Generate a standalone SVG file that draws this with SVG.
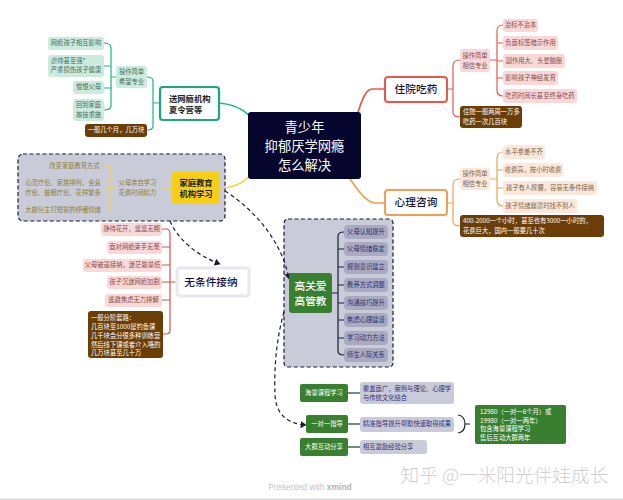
<svg xmlns="http://www.w3.org/2000/svg" width="623" height="500" viewBox="0 0 623 500">
<defs>
<style>
text{font-family:"Noto Sans CJK SC","Liberation Sans",sans-serif;text-anchor:middle}
.l{font-size:6.300px;transform:translateY(-.6px)}
.s{text-anchor:start}
.m{font-size:8.300px;font-weight:700;fill:#222}
.h{font-size:10.700px;font-weight:500;fill:#14143a}
.c{fill:none;stroke-width:1.200}
.t{stroke-width:1.700}
.tl rect{fill:#cdeadf}.tl text{fill:#3f6d5c}
.tr rect{fill:#f9d8d8}.tr text{fill:#8a4a4a}
.to rect{fill:#fbe8da}.to text{fill:#80624a}
.tn rect{fill:#a9aac2}.tn text{fill:#2c2c6a}
.tg rect{fill:#c9cbd8}.tg text{fill:#34307a}
.b rect{fill:#6b3e08}.b text{fill:#fff}
.g rect{fill:#38802f}.g text{fill:#fff}
.y text{fill:#8c7f30}
.d{fill:none;stroke:#1c1c3a;stroke-width:1.200;stroke-dasharray:4 3}
.p{fill:#c9cbd8;stroke:#1c1c3a;stroke-width:1.200;stroke-dasharray:4 2.500}
</style>
<marker id="a" markerWidth="6" markerHeight="6" refX="4.500" refY="3" orient="auto"><path d="M0,0L5,3L0,6Z" fill="#1c1c3a"/></marker>
</defs>
<rect width="623" height="500" fill="#fff"/>
<rect x="18" y="154" width="207" height="67" rx="5" class="p"/>
<rect x="284" y="219" width="109" height="148" rx="4" class="p"/>
<g id="connectors">
<path class="c t" stroke="#1fb387" d="M219,103C232,104 242,108 250,116"/>
<path class="c" stroke="#1fb387" d="M159,103H153M153,103V81Q153,77 147,77M153,103V126Q153,130 147,130M116,77H111M111,48V106M111,48Q111,43 104,43M111,66H104M111,88H104M111,106Q111,110 104,110"/>
<path class="c t" stroke="#e8584c" d="M384,89H372C366,89 362,100 358,112"/>
<path class="c" stroke="#e8584c" d="M447,89H453M453,66Q453,60 460,60M453,66V112Q453,117 460,117M490,60H497M497,31V90M497,31Q497,25 503,25M497,43H503M497,61H503M497,78H503M497,90Q497,96 503,96"/>
<path class="c t" stroke="#f0a050" d="M384,203H376C366,203 358,190 350,179"/>
<path class="c" stroke="#f0a050" d="M447,203H453M453,185Q453,179 460,179M453,185V221Q453,226 460,226M490,179H497M497,158V200M497,158Q497,152 503,152M497,170H503M497,188H503M497,200Q497,206 503,206"/>
<path class="c t" stroke="#f0d44a" d="M220,188C232,188 242,184 250,176"/>
<path class="c" stroke="#f0d44a" d="M172,188H162M103,166H107Q111,166 111,170V206Q111,210 105,210M103,188H116"/>
<path class="c" stroke="#d9504c" d="M176,282H170M170,234V331M162,229H166Q170,229 170,234M162,247H170M162,265H170M162,282H170M162,300H170M163,334H166Q170,334 170,331"/>
<path class="c" stroke="#1c1c3a" d="M332,293H338M338,236V351M338,236Q338,232 344,232M338,249H344M338,267H344M338,285H344M338,303H344M338,320H344M338,338H344M338,351Q338,355 344,355"/>
<path class="c t" stroke="#3f6b55" d="M348,393H360M348,424H360M348,447H360"/>
<path fill="none" stroke="#1c1c3a" stroke-width="1.200" d="M458,415Q465,416 465,424Q465,432 458,433M465,424H470"/>
<path class="d" marker-end="url(#a)" d="M170,221C178,240 198,256 220,264"/>
<path class="d" marker-end="url(#a)" d="M225,191C252,208 282,240 289,279"/>
<path class="d" marker-end="url(#a)" d="M284,312C276,340 274,370 275,395C276,415 288,424 306,425"/>
</g>
<g id="center"><rect x="248" y="112" width="113" height="67" rx="3" fill="#05052e"/><g fill="#fff" font-size="13.300"><text x="304.500" y="132">青少年</text><text x="304.500" y="151">抑郁厌学网瘾</text><text x="304.500" y="170">怎么解决</text></g></g>
<g id="n-send"><rect x="160" y="87" width="59" height="33" rx="3" fill="#fff" stroke="#1aaa7a" stroke-width="2.200"/><text class="m s" x="169" y="102">送网瘾机构</text><text class="m s" x="169" y="113">夏令营等</text></g>
<g id="n-send-leaves" class="tl">
<g><rect x="116" y="66" width="31" height="22" rx="3"/><text class="l" x="131.500" y="75">操作简单</text><text class="l" x="131.500" y="85">希望专业</text></g>
<g><rect x="48" y="37" width="56" height="13" rx="3"/><text class="l" x="76" y="46">网瘾孩子相互影响</text></g>
<g><rect x="48" y="55" width="56" height="22" rx="3"/><text class="l s" x="51" y="64">虐待甚至强*</text><text class="l" x="76" y="73">严重损伤孩子健康</text></g>
<g><rect x="73" y="81" width="31" height="13" rx="3"/><text class="l" x="88.500" y="90">憎恨父母</text></g>
<g><rect x="73" y="99" width="31" height="22" rx="3"/><text class="l" x="88.500" y="108">回到家庭</text><text class="l" x="88.500" y="118">故技重施</text></g>
</g>
<g id="n-send-cost" class="b"><rect x="85" y="124" width="62" height="13" rx="3"/><text class="l" x="116" y="133">一般几个月，几万块</text></g>
<g id="n-family"><rect x="172" y="172" width="48" height="32" rx="3" fill="#f6cf14"/><text class="m" x="196" y="186">家庭教育</text><text class="m" x="196" y="197">机构学习</text></g>
<g id="n-family-leaves" class="y">
<text class="l" x="137.500" y="186">父母亲自学习</text><text class="l" x="137.500" y="196">花费时间精力</text>
<text class="l" x="74.500" y="169">改变家庭教育方式</text>
<text class="l" x="63" y="186">心灵疗愈、家族排列、全息</text><text class="l" x="63" y="196">疗愈、催眠疗愈、花样繁多</text>
<text class="l" x="63" y="213">大部分主打短暂的纾缓情绪</text>
</g>
<g id="n-accept"><rect x="177" y="268" width="72" height="28" rx="3" fill="#fff" stroke="#e8e8ee" stroke-width="3"/><text class="h" x="211" y="286">无条件接纳</text></g>
<g id="n-accept-leaves" class="tr">
<g><rect x="101" y="223" width="61" height="13" rx="3"/><text class="l" x="131.500" y="232">静待花开，遥遥无期</text></g>
<g><rect x="107" y="241" width="55" height="13" rx="3"/><text class="l" x="134.500" y="250">面对网瘾束手无策</text></g>
<g><rect x="83" y="259" width="79" height="13" rx="3"/><text class="l" x="122.500" y="268">父母被逼接纳，迷茫能量低</text></g>
<g><rect x="107" y="276" width="55" height="13" rx="3"/><text class="l" x="134.500" y="285">孩子沉迷网瘾加剧</text></g>
<g><rect x="105" y="294" width="57" height="13" rx="3"/><text class="l" x="133.500" y="303">逃避焦虑无力排解</text></g>
</g>
<g id="n-accept-cost" class="b"><rect x="88" y="311" width="75" height="47" rx="3"/><text class="l s" x="91" y="321">一般分阶套路：</text><text class="l s" x="91" y="330">几百块至1000是钓鱼课</text><text class="l s" x="91" y="339">几千块会分很多种训练营</text><text class="l s" x="91" y="347.500">然后线下课或者介入咯的</text><text class="l s" x="91" y="356">几万块甚至几十万</text></g>
<g id="n-hospital"><rect x="385" y="77" width="62" height="25" rx="3" fill="#fff" stroke="#e8584c" stroke-width="2"/><text class="h" x="416" y="93">住院吃药</text></g>
<g id="n-hospital-leaves" class="tr">
<g><rect x="460" y="49" width="30" height="23" rx="3"/><text class="l" x="475" y="59">操作简单</text><text class="l" x="475" y="69">相信专业</text></g>
<g><rect x="503" y="19" width="35" height="13" rx="3"/><text class="l" x="520.500" y="28">治标不治本</text></g>
<g><rect x="503" y="36" width="55" height="14" rx="3"/><text class="l" x="530.500" y="46">负面标签暗示作用</text></g>
<g><rect x="503" y="54" width="62" height="14" rx="3"/><text class="l" x="534" y="64">副作用大、头晕脑胀</text></g>
<g><rect x="503" y="71" width="55" height="14" rx="3"/><text class="l" x="530.500" y="81">影响孩子神经发育</text></g>
<g><rect x="503" y="89" width="74" height="14" rx="3"/><text class="l" x="540" y="99">吃药时间长甚至终身吃药</text></g>
</g>
<g id="n-hospital-cost" class="b"><rect x="460" y="106" width="62" height="22" rx="3"/><text class="l s" x="463" y="115">住院一般两周一万多</text><text class="l s" x="463" y="125">吃药一次几百块</text></g>
<g id="n-counsel"><rect x="385" y="190" width="62" height="25" rx="3" fill="#fff" stroke="#f0a050" stroke-width="2"/><text class="h" x="416" y="206">心理咨询</text></g>
<g id="n-counsel-leaves" class="to">
<g><rect x="460" y="168" width="30" height="22" rx="3"/><text class="l" x="475" y="177">操作简单</text><text class="l" x="475" y="187">相信专业</text></g>
<g><rect x="503" y="145" width="42" height="14" rx="3"/><text class="l" x="524" y="155">水平参差不齐</text></g>
<g><rect x="503" y="163" width="60" height="14" rx="3"/><text class="l" x="533" y="173">收费高，按小时收费</text></g>
<g><rect x="503" y="181" width="94" height="14" rx="3"/><text class="l" x="550" y="191">孩子有人撑腰，容易无条件接纳</text></g>
<g><rect x="503" y="199" width="74" height="14" rx="3"/><text class="l" x="540" y="209">孩子情绪崩溃时找不到人</text></g>
</g>
<g id="n-counsel-cost" class="b"><rect x="460" y="215" width="144" height="22" rx="3"/><text class="l s" x="463" y="224">400-2000一个小时，甚至也有3000一小时的，</text><text class="l s" x="463" y="234">花费巨大，国内一般要几十次</text></g>
<g id="n-care"><rect x="289" y="273" width="43" height="40" rx="3" fill="#38802f"/><text x="310.500" y="290" font-size="10.700" fill="#fff" font-weight="500">高关爱</text><text x="310.500" y="305" font-size="10.700" fill="#fff" font-weight="500">高管教</text></g>
<g id="n-care-leaves" class="tn">
<g><rect x="344" y="225" width="44" height="14" rx="4"/><text class="l" x="366" y="235">父母认知提升</text></g>
<g><rect x="344" y="242" width="44" height="14" rx="4"/><text class="l" x="366" y="252">父母情绪稳定</text></g>
<g><rect x="344" y="260" width="44" height="14" rx="4"/><text class="l" x="366" y="270">规则意识建立</text></g>
<g><rect x="344" y="278" width="44" height="14" rx="4"/><text class="l" x="366" y="288">教养方式调整</text></g>
<g><rect x="344" y="296" width="44" height="14" rx="4"/><text class="l" x="366" y="306">沟通技巧提升</text></g>
<g><rect x="344" y="313" width="44" height="14" rx="4"/><text class="l" x="366" y="323">焦虑心理建设</text></g>
<g><rect x="344" y="331" width="44" height="14" rx="4"/><text class="l" x="366" y="341">学习动力方法</text></g>
<g><rect x="344" y="348" width="44" height="14" rx="4"/><text class="l" x="366" y="358">师生人际关系</text></g>
</g>
<g id="n-course" class="g"><rect x="300" y="384" width="48" height="18" rx="2"/><text class="l" x="324" y="396">海量课程学习</text></g>
<g id="n-one" class="g"><rect x="306" y="415" width="42" height="18" rx="2"/><text class="l" x="327" y="427">一对一指导</text></g>
<g id="n-group" class="g"><rect x="300" y="438" width="48" height="18" rx="2"/><text class="l" x="324" y="450">大群互动分享</text></g>
<g id="n-bottom-leaves" class="tg">
<g><rect x="360" y="382" width="94" height="22" rx="3"/><text class="l s" x="363" y="392">覆盖面广，案例与理论、心理学</text><text class="l s" x="363" y="401">与传统文化结合</text></g>
<g><rect x="360" y="417" width="94" height="15" rx="3"/><text class="l s" x="363" y="427">精准指导提升帮助快速取得成果</text></g>
<g><rect x="360" y="440" width="67" height="14" rx="3"/><text class="l s" x="363" y="450">相互激励经验分享</text></g>
</g>
<g id="n-price" class="g"><rect x="475" y="405" width="91" height="39" rx="2"/><text class="l s" x="480" y="415">12980（一对一6个月）或</text><text class="l s" x="480" y="423.500">19980（一对一两年）</text><text class="l s" x="480" y="432">包含海量课程学习</text><text class="l s" x="480" y="441">售后互动大群两年</text></g>
<text x="504.500" y="482" font-size="18.700" fill="#cfcfcf" style="font-weight:300">知乎 @一米阳光伴娃成长</text>
<text x="310" y="490" font-size="8.500" fill="#c4c4c4" style="font-family:'Liberation Sans',sans-serif">Presented with <tspan font-weight="700" fill="#b4b4b4">xmind</tspan></text>
<line x1="0" y1="499" x2="623" y2="499" stroke="#c8c8c8"/>
</svg>
